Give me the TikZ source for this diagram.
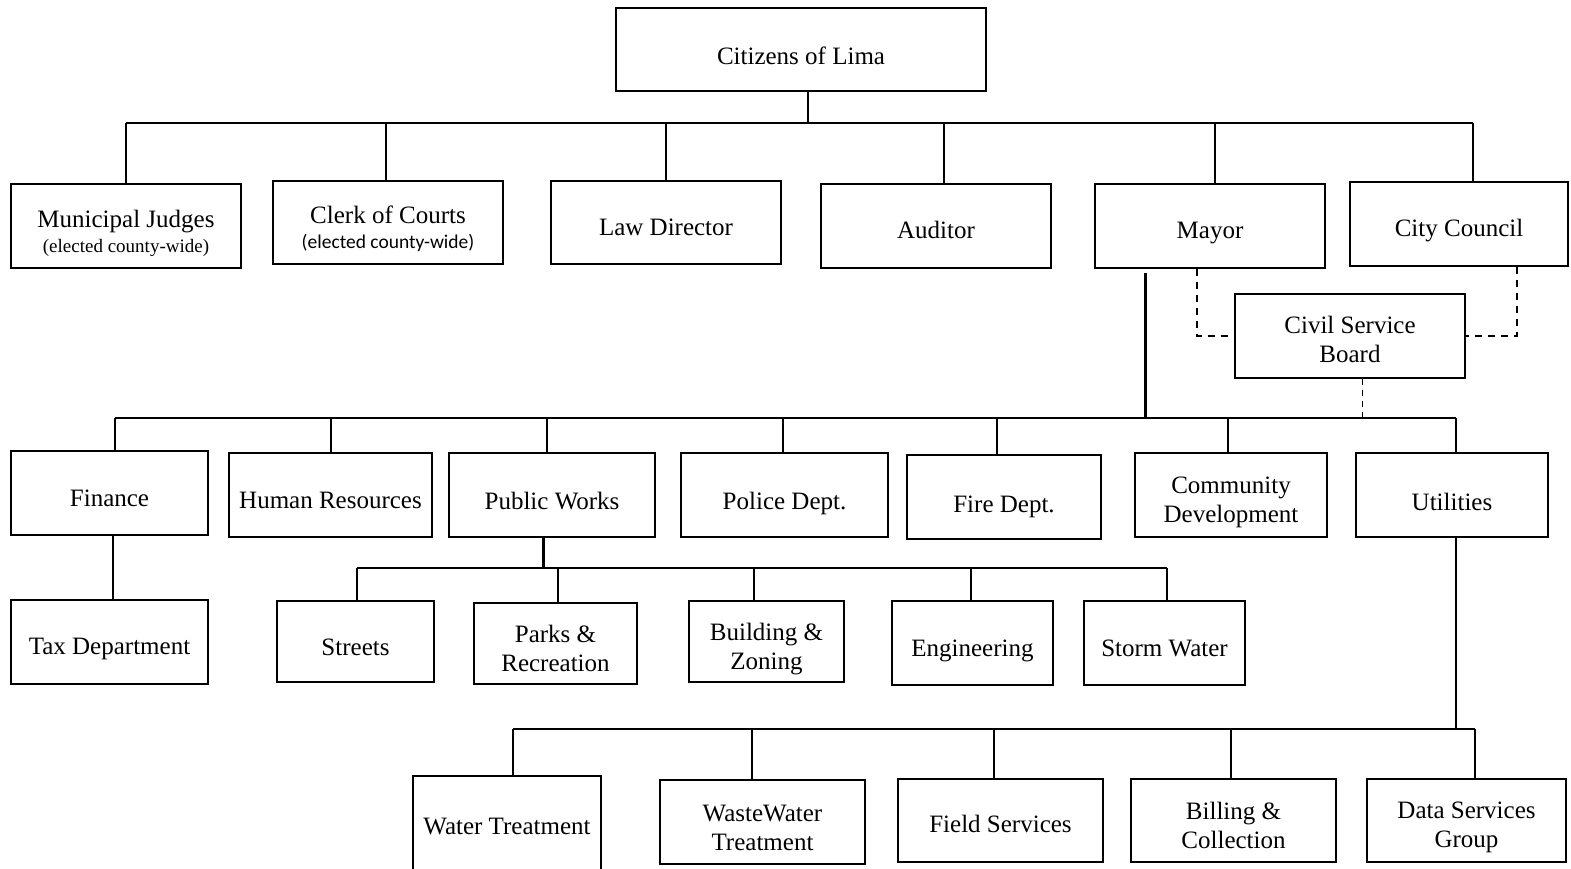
\documentclass[tikz,border=0pt]{standalone}
\usepackage{fontspec}
\setmainfont{Liberation Serif}
\newfontfamily\smallsans{Carlito}
\usetikzlibrary{calc}
\tikzset{
  box/.style={draw, line width=1.3pt, inner sep=0pt},
  txt/.style={inner sep=0pt, align=center, font=\fontsize{25}{29}\selectfont},
  conn/.style={line width=1.6pt},
  thickconn/.style={line width=3pt},
  dashconn/.style={line width=1.5pt, dash pattern=on 7pt off 6pt},
  thindash/.style={line width=0.8pt, dash pattern=on 6pt off 5pt},
}
% name, x, y, width, height, text offset, text
\newcommand{\bx}[7]{%
  \node[box, minimum width=#4pt, minimum height=#5pt] (#1) at (#2,#3) {};
  \node[txt] (#1-t) at ([yshift=-#6pt]#1.center) {#7};}
\begin{document}
\begin{tikzpicture}[x=1pt,y=-1pt]
\useasboundingbox (0,0) rectangle (1571,868);
% top
\bx{cit}{801}{49.5}{370}{83}{6}{Citizens of Lima}
\bx{judges}{126}{226}{230}{84}{7}{Municipal Judges\\[-4pt]{\fontsize{19}{21}\selectfont (elected county-wide)}}
\bx{clerk}{388}{222.5}{230}{83}{6}{Clerk of Courts\\[-4pt]{\smallsans\fontsize{19.5}{21}\selectfont (elected county-wide)}}
\bx{law}{666}{222.5}{230}{83}{5}{Law Director}
\bx{aud}{936}{226}{230}{84}{4}{Auditor}
\bx{mayor}{1210}{226}{230}{84}{7}{Mayor}
\bx{council}{1459}{224}{218}{84}{7}{City Council}
\bx{csb}{1350}{336}{230}{84}{3}{Civil Service\\Board}
% second row
\bx{fin}{109.5}{493}{197}{84}{5}{Finance}
\bx{hr}{330.5}{495}{203}{84}{5}{Human Resources}
\bx{pw}{552}{495}{206}{84}{6}{Public Works}
\bx{pol}{784.5}{495}{207}{84}{8}{Police Dept.}
\bx{fire}{1004}{497}{194}{84}{10}{Fire Dept.}
\bx{comm}{1231}{495}{192}{84}{7}{Community\\Development}
\bx{util}{1452}{495}{192}{84}{7}{Utilities}
% third row
\bx{tax}{109.5}{642}{197}{84}{7}{Tax Department}
\bx{streets}{355.5}{641.5}{157}{81}{6}{Streets}
\bx{parks}{555.5}{643.5}{163}{81}{5}{Parks \&\\Recreation}
\bx{bldg}{766.5}{641.5}{155}{81}{8}{Building \&\\Zoning}
\bx{eng}{972.5}{643}{161}{84}{8}{Engineering}
\bx{storm}{1164.5}{643}{161}{84}{5}{Storm Water}
% bottom row
\bx{water}{507}{824}{188}{96}{2}{Water Treatment}
\bx{waste}{762.5}{822}{205}{84}{6}{WasteWater\\Treatment}
\bx{field}{1000.5}{820.5}{205}{83}{3}{Field Services}
\bx{bill}{1233.5}{820.5}{205}{83}{5}{Billing \&\\Collection}
\bx{data}{1466.5}{820.5}{199}{83}{7}{Data Services\\Group}
% buses
\coordinate (b1L) at (126,123);
\coordinate (b1R) at (1473,123);
\coordinate (b2L) at (115,418);
\coordinate (b2R) at (1456,418);
\coordinate (b3L) at (357,568);
\coordinate (b3R) at (1167,568);
\coordinate (b4L) at (513,729);
\coordinate (b4R) at (1475,729);
\draw[conn] (b1L) -- (b1R);
\draw[conn] (b2L) -- (b2R);
\draw[conn] (b3L) -- (b3R);
\draw[conn] (b4L) -- (b4R);
% top connectors
\draw[conn] ([xshift=7pt]cit.south) -- ([xshift=7pt]cit.south |- b1L);
\draw[conn] (judges.north) -- (judges.north |- b1L);
\draw[conn] ([xshift=-2pt]clerk.north) -- ([xshift=-2pt]clerk.north |- b1L);
\draw[conn] (law.north) -- (law.north |- b1L);
\draw[conn] ([xshift=8pt]aud.north) -- ([xshift=8pt]aud.north |- b1L);
\draw[conn] ([xshift=5pt]mayor.north) -- ([xshift=5pt]mayor.north |- b1L);
\draw[conn] ([xshift=14pt]council.north) -- ([xshift=14pt]council.north |- b1L);
% civil service board
\draw[dashconn] ([xshift=-13pt]mayor.south) |- (csb.west);
\draw[dashconn] ([xshift=58pt]council.south) |- (csb.east);
\draw[thindash] ([xshift=12pt]csb.south) -- ([xshift=12pt]csb.south |- b2L);
% mayor to departments
\draw[thickconn] ([xshift=-65pt,yshift=-4pt]mayor.south) -- ([xshift=-65pt]mayor.south |- b2L);
% second row connectors
\draw[conn] ([xshift=5.5pt]fin.north) -- ([xshift=5.5pt]fin.north |- b2L);
\draw[conn] ([xshift=0.5pt]hr.north) -- ([xshift=0.5pt]hr.north |- b2L);
\draw[conn] ([xshift=-5pt]pw.north) -- ([xshift=-5pt]pw.north |- b2L);
\draw[conn] ([xshift=-1.5pt]pol.north) -- ([xshift=-1.5pt]pol.north |- b2L);
\draw[conn] ([xshift=-7pt]fire.north) -- ([xshift=-7pt]fire.north |- b2L);
\draw[conn] ([xshift=-3pt]comm.north) -- ([xshift=-3pt]comm.north |- b2L);
\draw[conn] ([xshift=4pt]util.north) -- ([xshift=4pt]util.north |- b2L);
% finance
\draw[conn] ([xshift=3.5pt]fin.south) -- ([xshift=3.5pt]tax.north);
% public works
\draw[thickconn] ([xshift=-9pt]pw.south) -- ([xshift=-9pt]pw.south |- b3L);
\draw[conn] ([xshift=1.5pt]streets.north) -- ([xshift=1.5pt]streets.north |- b3L);
\draw[conn] ([xshift=2.5pt]parks.north) -- ([xshift=2.5pt]parks.north |- b3L);
\draw[conn] ([xshift=-12.5pt]bldg.north) -- ([xshift=-12.5pt]bldg.north |- b3L);
\draw[conn] ([xshift=-1.5pt]eng.north) -- ([xshift=-1.5pt]eng.north |- b3L);
\draw[conn] ([xshift=2.5pt]storm.north) -- ([xshift=2.5pt]storm.north |- b3L);
% utilities
\draw[conn] ([xshift=4pt]util.south) -- ([xshift=4pt]util.south |- b4L);
\draw[conn] ([xshift=6pt]water.north) -- ([xshift=6pt]water.north |- b4L);
\draw[conn] ([xshift=-10.5pt]waste.north) -- ([xshift=-10.5pt]waste.north |- b4L);
\draw[conn] ([xshift=-6.5pt]field.north) -- ([xshift=-6.5pt]field.north |- b4L);
\draw[conn] ([xshift=-2.5pt]bill.north) -- ([xshift=-2.5pt]bill.north |- b4L);
\draw[conn] ([xshift=8.5pt]data.north) -- ([xshift=8.5pt]data.north |- b4L);
\end{tikzpicture}
\end{document}
